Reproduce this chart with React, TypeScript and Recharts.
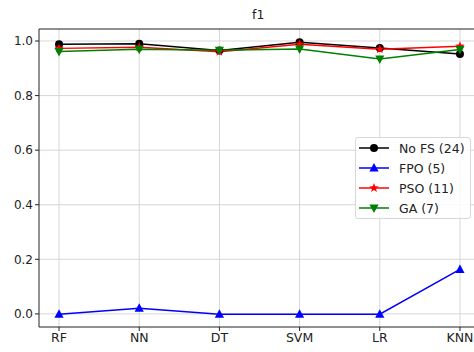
import { CartesianGrid, Line, LineChart, ReferenceLine, XAxis, YAxis } from 'recharts';

const categories = ['RF', 'NN', 'DT', 'SVM', 'LR', 'KNN'];
const noFs = [0.988, 0.99, 0.965, 0.995, 0.974, 0.952];
const fpo = [-0.001, 0.021, -0.001, -0.001, -0.001, 0.163];
const pso = [0.973, 0.977, 0.961, 0.988, 0.97, 0.981];
const ga = [0.962, 0.97, 0.966, 0.971, 0.934, 0.969];
const yTicks = [0, 0.2, 0.4, 0.6, 0.8, 1.0];

const series = [
  { key: 'noFs', name: 'No FS (24)', color: '#000000', shape: 'circle' },
  { key: 'fpo', name: 'FPO (5)', color: '#0000ff', shape: 'up' },
  { key: 'pso', name: 'PSO (11)', color: '#ff0000', shape: 'star' },
  { key: 'ga', name: 'GA (7)', color: '#008000', shape: 'down' },
];

const data = categories.map((c, i) => ({
  x: i,
  name: c,
  noFs: noFs[i],
  fpo: fpo[i],
  pso: pso[i],
  ga: ga[i],
}));

function starPath(cx: number, cy: number, r: number) {
  const pts: string[] = [];
  for (let i = 0; i < 10; i++) {
    const rad = i % 2 === 0 ? r : r * 0.42;
    const a = -Math.PI / 2 + (i * Math.PI) / 5;
    pts.push(`${cx + rad * Math.cos(a)},${cy + rad * Math.sin(a)}`);
  }
  return `M${pts.join('L')}Z`;
}

function Marker({ cx, cy, shape, color }: { cx: number; cy: number; shape: string; color: string }) {
  if (shape === 'circle') return <circle cx={cx} cy={cy} r={4} fill={color} />;
  if (shape === 'up')
    return <path d={`M${cx},${cy - 5}L${cx + 4.6},${cy + 3.5}L${cx - 4.6},${cy + 3.5}Z`} fill={color} />;
  if (shape === 'down')
    return <path d={`M${cx},${cy + 5}L${cx + 4.6},${cy - 3.5}L${cx - 4.6},${cy - 3.5}Z`} fill={color} />;
  return <path d={starPath(cx, cy, 5)} fill={color} />;
}

const LegendBox = () => (
  <div
    style={{
      position: 'absolute',
      left: 355,
      top: 137,
      width: 116,
      height: 82,
      border: '1px solid #d8d8d8',
      borderRadius: 3,
      background: 'rgba(255,255,255,0.85)',
      boxSizing: 'border-box',
    }}
  >
    <svg width={116} height={82}>
      {series.map((s, i) => {
        const y = 10 + i * 20;
        return (
          <g key={s.key}>
            <line x1={3} x2={33} y1={y} y2={y} stroke={s.color} strokeWidth={1.5} />
            <Marker cx={18} cy={y} shape={s.shape} color={s.color} />
            <text x={43} y={y + 4.5} fontSize={12.5} fill="#222" fontFamily="DejaVu Sans">
              {s.name}
            </text>
          </g>
        );
      })}
    </svg>
  </div>
);

export default function App() {
  return (
    <div
      style={{
        position: 'absolute',
        left: 0,
        top: 0,
        width: 474,
        height: 352,
        overflow: 'hidden',
        background: '#fff',
        fontFamily: 'DejaVu Sans',
      }}
    >
      <div style={{ position: 'absolute', left: 252, top: 7, fontSize: 12.5, color: '#222' }}>f1</div>
      <LineChart
        width={490}
        height={352}
        data={data}
        margin={{ top: 29, right: 10, bottom: 0, left: 0 }}
      >
        <CartesianGrid stroke="#d6d6d6" strokeWidth={1} verticalValues={[0, 1, 2, 3, 4, 5]} horizontalValues={yTicks} />
        <XAxis
          dataKey="x"
          type="number"
          domain={[-0.25, 5.25]}
          ticks={[0, 1, 2, 3, 4, 5]}
          tickFormatter={(v: number) => categories[v]}
          interval={0}
          height={25}
          stroke="#222"
          tickSize={4}
          tick={{ fill: '#222', fontSize: 12.5 }}
          tickMargin={2}
        />
        <YAxis
          type="number"
          domain={[-0.048, 1.044]}
          ticks={yTicks}
          tickFormatter={(v: number) => v.toFixed(1)}
          width={39}
          stroke="#222"
          tickSize={4}
          tick={{ fill: '#222', fontSize: 12 }}
          tickMargin={2}
        />
        <ReferenceLine y={1.044} stroke="#222" strokeWidth={1} />
        {series.map((s) => (
          <Line
            key={s.key}
            dataKey={s.key}
            name={s.name}
            stroke={s.color}
            strokeWidth={1.5}
            isAnimationActive={false}
            dot={(p: any) => (
              <Marker key={`${s.key}-${p.index}`} cx={p.cx} cy={p.cy} shape={s.shape} color={s.color} />
            )}
            activeDot={false}
          />
        ))}
      </LineChart>
      <LegendBox />
    </div>
  );
}
